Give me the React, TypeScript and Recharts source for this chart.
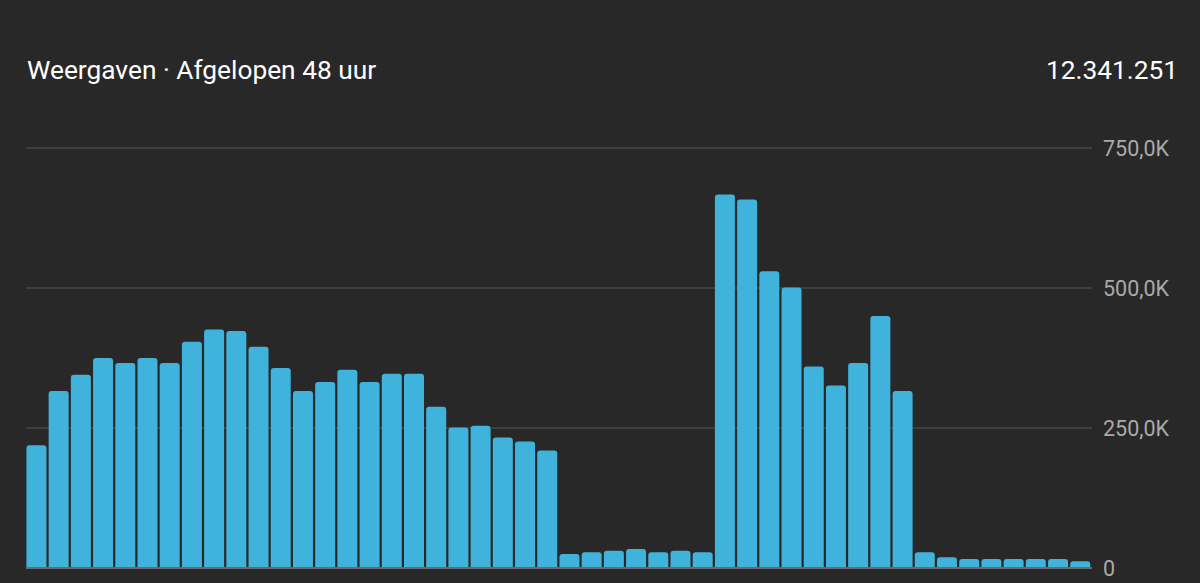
import React from "react";
import { BarChart, Bar, XAxis, YAxis, CartesianGrid, ReferenceLine } from "recharts";

const hours = Array.from({ length: 48 }, (_, i) => `h${i + 1}`);
const views = [219, 316, 345, 375, 366, 375, 366, 404, 426, 423, 395, 357, 316, 332, 354, 332, 347, 347, 288, 251, 254, 233, 226, 210, 25, 28, 31, 34, 28, 31, 28, 667, 658, 530, 501, 360, 326, 366, 450, 316, 28, 19, 16, 16, 16, 16, 16, 12];
const ticks = [0, 250000, 500000, 750000];
const tickLabels = ["0", "250,0K", "500,0K", "750,0K"];
const data = hours.map((h, i) => ({ h, v: views[i] * 1000 }));

export default function App() {
  return (
    <div style={{ position: "absolute", left: 0, top: 0, width: 1200, height: 583, background: "#282828", overflow: "hidden", fontFamily: "Roboto" }}>
      <div style={{ position: "absolute", left: 27, top: 55, fontSize: 26.3, lineHeight: "30px", color: "#fff" }}>Weergaven · Afgelopen 48 uur</div>
      <div style={{ position: "absolute", right: 22, top: 55, fontSize: 26.3, lineHeight: "30px", color: "#fff" }}>12.341.251</div>
      <BarChart width={1200} height={583} data={data} margin={{ top: 148, right: 0, bottom: 15, left: 26 }} barCategoryGap={1.25} style={{ position: "absolute", left: 0, top: 0 }}>
        <CartesianGrid horizontal vertical={false} stroke="#3e3e3e" strokeWidth={2} />
        <XAxis dataKey="h" hide padding={{ left: -0.8, right: 0.8 }} />
        <YAxis orientation="right" width={108} domain={[0, 750000]} ticks={ticks} interval={0} axisLine={false} tickLine={false} tickMargin={5}
          tick={{ fill: "#aaaaaa", fontSize: 21.5, fontFamily: "Roboto" }}
          tickFormatter={(v: number) => tickLabels[ticks.indexOf(v)]} />
        <Bar dataKey="v" fill="#40b3dc" radius={[3, 3, 0, 0]} isAnimationActive={false} />
        <ReferenceLine y={0} stroke="#6a6a6a" strokeWidth={2} />
      </BarChart>
    </div>
  );
}
